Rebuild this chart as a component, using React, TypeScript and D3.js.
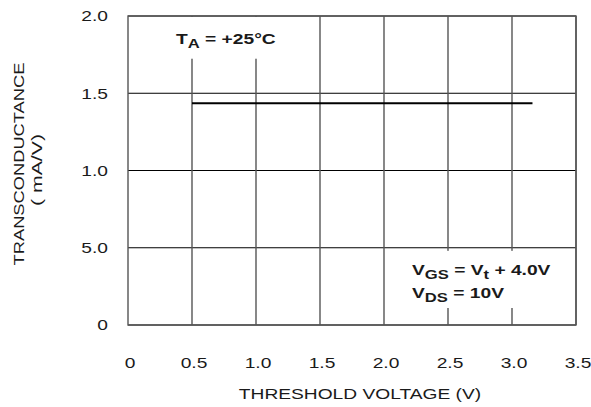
import React from 'react';
import * as d3 from 'd3';

// x axis: threshold voltage (V)
const xTicks = [0, 0.5, 1.0, 1.5, 2.0, 2.5, 3.0, 3.5];
const xTickLabels = ['0', '0.5', '1.0', '1.5', '2.0', '2.5', '3.0', '3.5'];
// y axis: transconductance (mA/V) -- label "5.0" printed as in the original sheet
const yTicks = [0, 0.5, 1.0, 1.5, 2.0];
const yTickLabels = ['0', '5.0', '1.0', '1.5', '2.0'];
// the curve: flat transconductance vs threshold voltage
const thresholdV = [0.5, 3.16];
const transconductance = [1.435, 1.435];

const W = 591;
const H = 407;
const margin = {top: 16, right: 15, bottom: 82, left: 128};
const font = 'Arial, "Liberation Sans", sans-serif';
// the datasheet lettering is wide, so stretch it horizontally
const SX = 1.28;

// text helper: wide lettering placed at (x, y)
const Wide = ({x, y, rotate = 0, anchor = 'start', size = 15, bold = false, sx = SX, children}: any) => (
    <g transform={`translate(${x},${y}) rotate(${rotate}) scale(${sx},1)`}>
        <text x={0} y={0} textAnchor={anchor} fontFamily={font} fontSize={size}
              fontWeight={bold ? 'bold' : 'normal'} fill="#1a1a1a">{children}</text>
    </g>
);

const App = () => {
    const x = d3.scaleLinear().domain([0, 3.5]).range([margin.left, W - margin.right]);
    const y = d3.scaleLinear().domain([0, 2]).range([H - margin.bottom, margin.top]);

    const line = d3.line<number>()
        .x((d, i) => x(thresholdV[i]))
        .y((d) => y(d));

    // white boxes behind the annotations hide the grid
    const taBox = {x0: x(0.3), x1: x(1.25), y0: y(2), y1: y(1.73)};
    const vBox = {x0: x(2.2), x1: x(3.35), y0: y(0.48), y1: y(0.11)};

    return (
        <svg width={W} height={H} style={{position: 'absolute', left: 0, top: 0}}>
            <rect width={W} height={H} fill="white"/>
            {/* horizontal grid */}
            {yTicks.map((t) => (
                <line key={'h' + t} x1={x(0)} x2={x(3.5)} y1={y(t)} y2={y(t)}
                      stroke="#000" strokeWidth={1}/>
            ))}
            {/* vertical grid */}
            {xTicks.slice(1).map((t) => (
                <line key={'v' + t} x1={x(t)} x2={x(t)} y1={y(2)} y2={y(0)}
                      stroke="#555" strokeWidth={1.4}/>
            ))}
            {/* frame */}
            <rect x={x(0)} y={y(2)} width={x(3.5) - x(0)} height={y(0) - y(2)}
                  fill="none" stroke="#555" strokeWidth={1.4}/>

            <rect x={taBox.x0} y={taBox.y0 + 1} width={taBox.x1 - taBox.x0} height={taBox.y1 - taBox.y0}
                  fill="white"/>
            <rect x={vBox.x0} y={vBox.y0} width={vBox.x1 - vBox.x0} height={vBox.y1 - vBox.y0}
                  fill="white"/>

            <path d={line(transconductance) || ''} fill="none" stroke="#000" strokeWidth={2}/>

            {/* annotations */}
            <Wide x={176} y={44} bold>
                T<tspan fontSize={13} dy={4}>A</tspan><tspan dy={-4}> = +25°C</tspan>
            </Wide>
            <Wide x={412} y={275} bold>
                V<tspan fontSize={13} dy={4}>GS</tspan><tspan dy={-4}> = V</tspan>
                <tspan fontSize={13} dy={4}>t</tspan><tspan dy={-4}> + 4.0V</tspan>
            </Wide>
            <Wide x={412} y={298} bold>
                V<tspan fontSize={13} dy={4}>DS</tspan><tspan dy={-4}> = 10V</tspan>
            </Wide>

            {/* tick labels */}
            {yTicks.map((t, i) => (
                <Wide key={'yl' + t} x={108} y={y(t) + 5.4} anchor="end">{yTickLabels[i]}</Wide>
            ))}
            {xTicks.map((t, i) => (
                <Wide key={'xl' + t} x={x(t) + 2} y={368} anchor="middle">{xTickLabels[i]}</Wide>
            ))}

            {/* axis titles */}
            <Wide x={360} y={399} anchor="middle">THRESHOLD VOLTAGE (V)</Wide>
            <Wide x={24} y={164} rotate={-90} anchor="middle" sx={1.22}>TRANSCONDUCTANCE</Wide>
            <Wide x={42} y={170} rotate={-90} anchor="middle" sx={1.42}>( mA/V)</Wide>
        </svg>
    );
};

export default App;
